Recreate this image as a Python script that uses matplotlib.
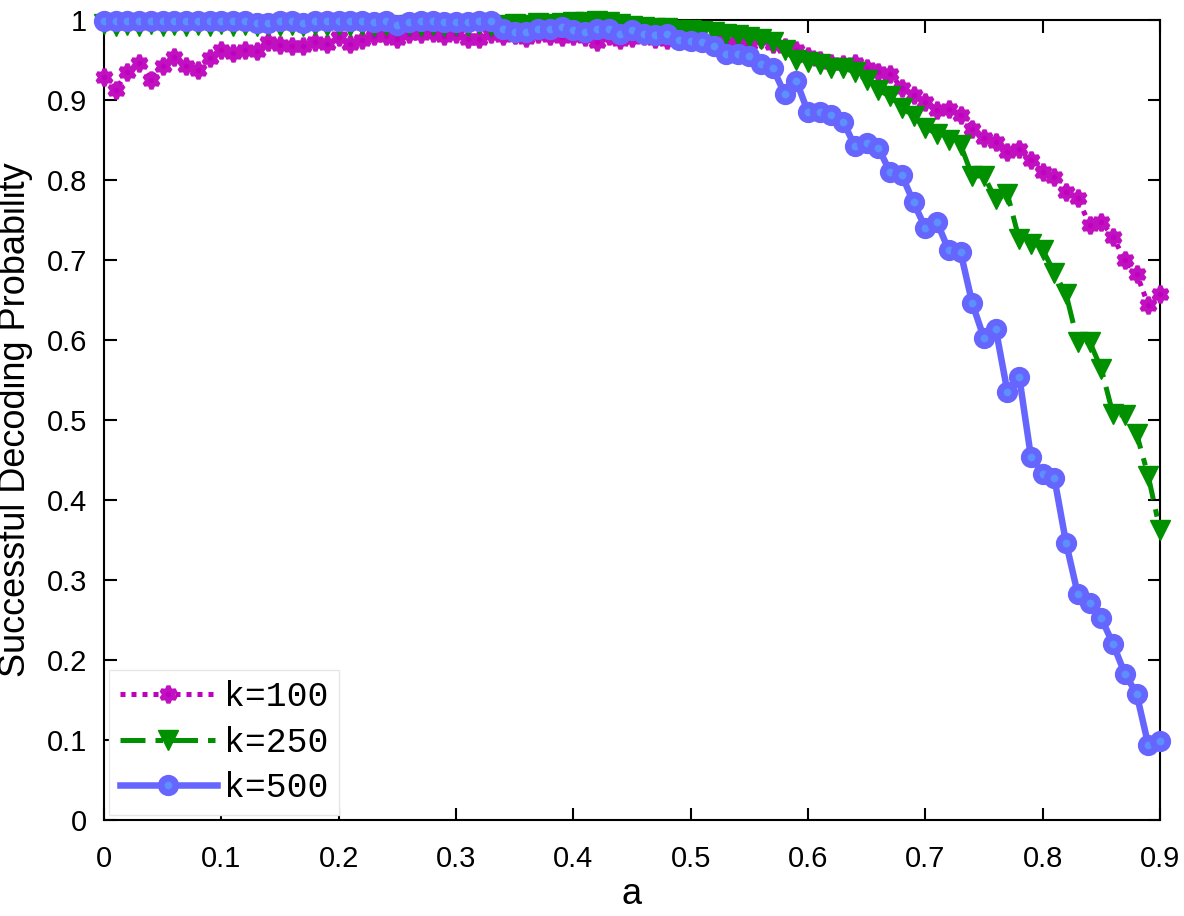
import matplotlib
matplotlib.use('Agg')
import matplotlib.pyplot as plt
import numpy as np

# x grid: a = 0.00 ... 0.90 in steps of 0.01
a = np.linspace(0, 0.9, 91)

k100 = [0.929, 0.913, 0.935, 0.946, 0.925, 0.942, 0.954, 0.943, 0.938, 0.952,
        0.962, 0.959, 0.962, 0.961, 0.973, 0.969, 0.968, 0.967, 0.973, 0.970,
        0.979, 0.970, 0.975, 0.980, 0.980, 0.976, 0.982, 0.982, 0.984, 0.980,
        0.982, 0.976, 0.976, 0.982, 0.980, 0.981, 0.978, 0.982, 0.980, 0.979,
        0.980, 0.979, 0.973, 0.980, 0.975, 0.978, 0.980, 0.976, 0.975, 0.977,
        0.975, 0.973, 0.975, 0.970, 0.972, 0.970, 0.976, 0.970, 0.966, 0.963,
        0.955, 0.950, 0.946, 0.945, 0.946, 0.940, 0.935, 0.933, 0.915, 0.906,
        0.898, 0.888, 0.889, 0.881, 0.864, 0.852, 0.848, 0.835, 0.839, 0.825,
        0.810, 0.804, 0.785, 0.777, 0.744, 0.748, 0.729, 0.700, 0.683, 0.644,
        0.658]

k250 = [0.995, 0.993, 0.994, 0.993, 0.995, 0.993, 0.994, 0.993, 0.994, 0.993,
        0.995, 0.993, 0.994, 0.993, 0.994, 0.993, 0.994, 0.993, 0.994, 0.993,
        0.994, 0.993, 0.994, 0.993, 0.994, 0.993, 0.994, 0.993, 0.994, 0.993,
        0.994, 0.993, 0.995, 0.993, 0.994, 0.995, 0.994, 0.996, 0.995, 0.996,
        0.997, 0.998, 0.999, 0.997, 0.995, 0.993, 0.991, 0.990, 0.990, 0.988,
        0.987, 0.986, 0.985, 0.982, 0.981, 0.979, 0.976, 0.972, 0.962, 0.950,
        0.948, 0.945, 0.940, 0.940, 0.935, 0.925, 0.912, 0.905, 0.890, 0.880,
        0.865, 0.858, 0.850, 0.844, 0.805, 0.805, 0.776, 0.782, 0.726, 0.720,
        0.713, 0.684, 0.657, 0.597, 0.598, 0.564, 0.507, 0.506, 0.483, 0.430,
        0.362]

k500 = [0.999, 0.999, 0.999, 0.999, 0.999, 0.999, 0.999, 0.999, 0.999, 0.999,
        0.999, 0.999, 0.999, 0.996, 0.996, 0.999, 0.999, 0.996, 0.999, 0.999,
        0.999, 0.999, 0.999, 0.998, 0.999, 0.994, 0.997, 0.999, 0.999, 0.997,
        0.997, 0.997, 0.999, 0.999, 0.989, 0.985, 0.985, 0.989, 0.989, 0.991,
        0.988, 0.985, 0.989, 0.989, 0.983, 0.988, 0.983, 0.981, 0.983, 0.975,
        0.974, 0.972, 0.968, 0.957, 0.957, 0.955, 0.945, 0.940, 0.908, 0.924,
        0.885, 0.885, 0.881, 0.873, 0.842, 0.846, 0.840, 0.810, 0.806, 0.772,
        0.740, 0.747, 0.712, 0.710, 0.646, 0.602, 0.614, 0.535, 0.554, 0.454,
        0.433, 0.427, 0.346, 0.282, 0.271, 0.252, 0.220, 0.183, 0.158, 0.094,
        0.099]

xticks = [0, 0.1, 0.2, 0.3, 0.4, 0.5, 0.6, 0.7, 0.8, 0.9]
xticklabels = ['0', '0.1', '0.2', '0.3', '0.4', '0.5', '0.6', '0.7', '0.8', '0.9']
yticks = [0, 0.1, 0.2, 0.3, 0.4, 0.5, 0.6, 0.7, 0.8, 0.9, 1]
yticklabels = ['0', '0.1', '0.2', '0.3', '0.4', '0.5', '0.6', '0.7', '0.8', '0.9', '1']

plt.rcParams['font.family'] = ['Liberation Sans', 'DejaVu Sans']

fig = plt.figure(figsize=(11.84, 9.16), dpi=100)
ax = fig.add_axes([104/1184, 96/916, 1056/1184, 800/916])

ax.plot(a, k100, color='#BF00BF', linestyle=(0, (1, 1.2)), linewidth=3.6,
        marker=(6, 1, 0), markersize=12, markeredgewidth=3,
        markeredgecolor='#C010C0', markerfacecolor='#BF00BF',
        label='k=100', clip_on=False, zorder=3)
ax.plot(a, k250, color='#009000', linestyle=(0, (5, 2, 1.5, 2)), linewidth=3.6,
        marker='v', markersize=14, markeredgewidth=1,
        markeredgecolor='#009000', markerfacecolor='#009000',
        label='k=250', clip_on=False, zorder=4)
ax.plot(a, k500, color='#6666FF', linestyle='-', linewidth=4.7,
        marker='o', markersize=10.5, markeredgewidth=4.8,
        markeredgecolor='#6666FF', markerfacecolor='#5C90FF',
        label='k=500', clip_on=False, zorder=5)

ax.set_xlim(0, 0.9)
ax.set_ylim(0, 1)
ax.set_xticks(xticks)
ax.set_xticklabels(xticklabels)
ax.set_yticks(yticks)
ax.set_yticklabels(yticklabels)
ax.tick_params(direction='in', length=9, width=1.5, labelsize=21,
               top=True, right=True, pad=12)
ax.tick_params(axis='x', pad=18)
for s in ax.spines.values():
    s.set_linewidth(1.5)

ax.set_xlabel('a', fontsize=26, labelpad=3)
ax.set_ylabel('Successful Decoding Probability', fontsize=26, labelpad=10)

leg = ax.legend(loc='lower left', prop={'family': 'Liberation Mono', 'size': 25},
                handlelength=2.8, handletextpad=0.2, labelspacing=0.36,
                borderaxespad=0.15, borderpad=0.3, fancybox=False,
                framealpha=1, edgecolor='#E6E6E6')
leg.set_zorder(10)

fig.savefig('out.png', dpi=100)
